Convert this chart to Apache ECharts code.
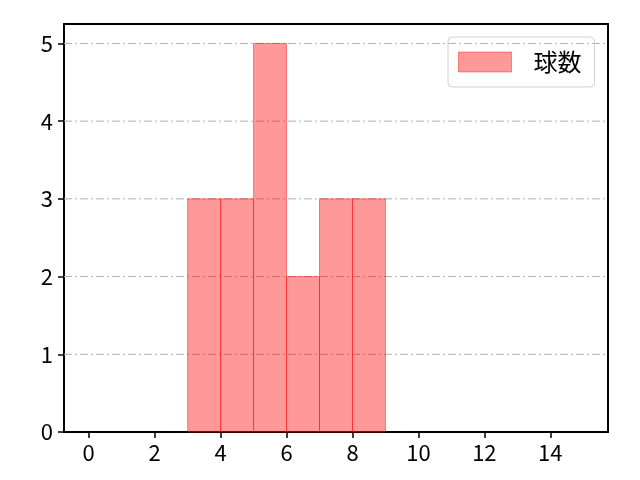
<!DOCTYPE html>
<html><head><meta charset="utf-8">
<script src="https://cdn.jsdelivr.net/npm/echarts@6/dist/echarts.min.js"></script>
<style>html,body{margin:0;padding:0;background:#fff}#c{width:640px;height:480px}</style>
</head><body><div id="c"></div>
<script>
const binStarts = [3, 4, 5, 6, 7, 8];
const binEnds = [4, 5, 6, 7, 8, 9];
const counts = [3, 3, 5, 2, 3, 3];
const xTicks = [0, 2, 4, 6, 8, 10, 12, 14];
const yTicks = [0, 1, 2, 3, 4, 5];
const seriesName = '球数';

const data = binStarts.map((s, i) => [s, binEnds[i], counts[i]]);
const font = '"Noto Sans CJK JP", "Noto Sans", sans-serif';
const chart = echarts.init(document.getElementById('c'), null, {renderer: 'canvas'});
const lbl = {color: '#000', fontSize: 22, fontFamily: font};
chart.setOption({
  animation: false,
  grid: {left: 64, right: 32, top: 24, bottom: 48},
  legend: {
    left: 448, top: 37,
    padding: [13, 13, 13, 10],
    borderColor: '#d0d0d0', borderWidth: 1, borderRadius: 4,
    itemWidth: 53, itemHeight: 20,
    textStyle: {color: '#000', fontSize: 24, fontFamily: font, padding: [0, 0, 0, 17]},
    data: [{name: seriesName, icon: 'rect', itemStyle: {color: 'rgba(255,0,0,0.4)', borderColor: 'rgba(255,0,0,0.4)', borderWidth: 1}}]
  },
  xAxis: [{
    type: 'value', min: -0.75, max: 15.75,
    axisLine: {onZero: false, lineStyle: {color: '#000', width: 2}},
    axisTick: {customValues: xTicks, length: 6, lineStyle: {color: '#000', width: 1.5}},
    axisLabel: Object.assign({customValues: xTicks, margin: 10}, lbl),
    splitLine: {show: false}
  }, {
    type: 'value', position: 'top', min: -0.75, max: 15.75,
    axisLine: {show: true, onZero: false, lineStyle: {color: '#000', width: 2}},
    axisTick: {show: false}, axisLabel: {show: false}, splitLine: {show: false}
  }],
  yAxis: [{
    type: 'value', min: 0, max: 5.25,
    axisLine: {show: true, onZero: false, lineStyle: {color: '#000', width: 2}},
    axisTick: {show: true, customValues: yTicks, length: 6, lineStyle: {color: '#000', width: 1.5}},
    axisLabel: Object.assign({customValues: yTicks, margin: 11}, lbl),
    splitLine: {show: false}
  }, {
    type: 'value', position: 'right', min: 0, max: 5.25,
    axisLine: {show: true, onZero: false, lineStyle: {color: '#000', width: 2}},
    axisTick: {show: false}, axisLabel: {show: false}, splitLine: {show: false}
  }],
  series: [{
    name: 'grid', type: 'custom', silent: true, z: 1,
    data: yTicks.filter(v => v > 0).map(v => [v]),
    encode: {y: 0},
    renderItem: function (params, api) {
      const y = api.coord([0, api.value(0)])[1];
      const cs = params.coordSys;
      return {type: 'line', shape: {x1: cs.x, y1: y, x2: cs.x + cs.width, y2: y},
        style: {stroke: '#b0b0b0', lineWidth: 1, lineDash: [8, 3, 2, 3]}};
    }
  }, {
    name: seriesName, type: 'custom', z: 2,
    data: data,
    encode: {x: [0, 1], y: 2},
    renderItem: function (params, api) {
      const p0 = api.coord([api.value(0), api.value(2)]);
      const p1 = api.coord([api.value(1), 0]);
      return {type: 'rect', shape: {x: p0[0], y: p0[1], width: p1[0] - p0[0], height: p1[1] - p0[1]},
        style: {fill: 'rgba(255,0,0,0.4)', stroke: 'rgba(255,0,0,0.45)', lineWidth: 1}};
    }
  }]
});
</script></body></html>
